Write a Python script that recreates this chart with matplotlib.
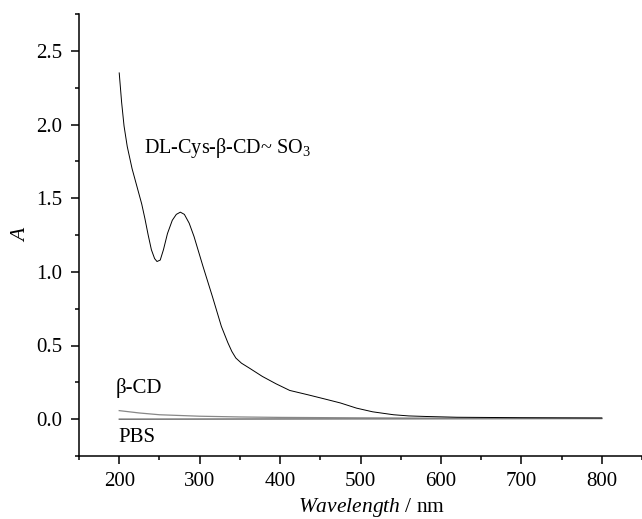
import matplotlib
matplotlib.use("Agg")
import matplotlib.pyplot as plt
from matplotlib.ticker import MultipleLocator, FormatStrFormatter

# values
wl_cys = [200, 203, 206, 210, 216, 222, 228, 232, 236, 240, 244, 247, 251, 255,
          260, 266, 271, 276, 281, 287, 293, 304, 316, 327, 335, 340, 345, 352,
          362, 378, 395, 412, 435, 457, 475, 495, 515, 541, 560, 583, 620, 700, 800]
a_cys = [2.35, 2.15, 1.99, 1.85, 1.70, 1.58, 1.46, 1.36, 1.25, 1.15, 1.09, 1.07,
         1.08, 1.15, 1.26, 1.35, 1.39, 1.405, 1.39, 1.33, 1.24, 1.04, 0.83, 0.63,
         0.52, 0.46, 0.415, 0.38, 0.346, 0.29, 0.24, 0.195, 0.165, 0.135, 0.11,
         0.075, 0.05, 0.03, 0.022, 0.018, 0.013, 0.010, 0.008]

wl_cd = [200, 225, 250, 300, 350, 400, 500, 600, 800]
a_cd = [0.058, 0.042, 0.030, 0.020, 0.015, 0.012, 0.009, 0.007, 0.006]

wl_pbs = [200, 500, 800]
a_pbs = [0.0, 0.002, 0.004]

plt.rcParams['font.family'] = ['Liberation Serif', 'DejaVu Serif']
plt.rcParams['mathtext.fontset'] = 'custom'
plt.rcParams['mathtext.rm'] = 'Liberation Serif'
plt.rcParams['mathtext.it'] = 'Liberation Serif:italic'

fig = plt.figure(figsize=(6.42, 5.19), dpi=100)
ax = fig.add_axes([79 / 642, 63 / 519, 1 - 79 / 642, (456 - 14) / 519])

ax.plot(wl_pbs, a_pbs, color='#555555', lw=0.9)
ax.plot(wl_cd, a_cd, color='#888888', lw=0.9)
ax.plot(wl_cys, a_cys, color='black', lw=0.7)

ax.set_xlim(150, 850)
ax.set_ylim(-0.25, 2.75)
ax.xaxis.set_minor_locator(MultipleLocator(50))
ax.yaxis.set_minor_locator(MultipleLocator(0.25))
ax.set_xticks([200, 300, 400, 500, 600, 700, 800])
ax.set_yticks([0.0, 0.5, 1.0, 1.5, 2.0, 2.5])
ax.yaxis.set_major_formatter(FormatStrFormatter('%.1f'))

for side in ('top', 'right'):
    ax.spines[side].set_visible(False)
for side in ('left', 'bottom'):
    ax.spines[side].set_linewidth(1.1)

ax.tick_params(which='major', direction='out', length=5.8, width=1.1,
               labelsize=15, pad=6)
ax.tick_params(which='minor', direction='out', length=3, width=1.1)

ax.set_ylabel('A', fontsize=15.5, style='italic')
ax.yaxis.set_label_coords(-0.085, 0.5)
ax.set_xlabel('$\\mathit{Wavelength}$ / nm', fontsize=15.5)
ax.xaxis.set_label_coords(0.52, -0.09)

ax.text(231, 1.84, 'DL-Cys-β-CD~ SO$_3$', fontsize=14.5, va='center')
ax.text(196, 0.21, 'β-CD', fontsize=15, va='center')
ax.text(199, -0.125, 'PBS', fontsize=15, va='center')

fig.savefig('out.png', dpi=100)
